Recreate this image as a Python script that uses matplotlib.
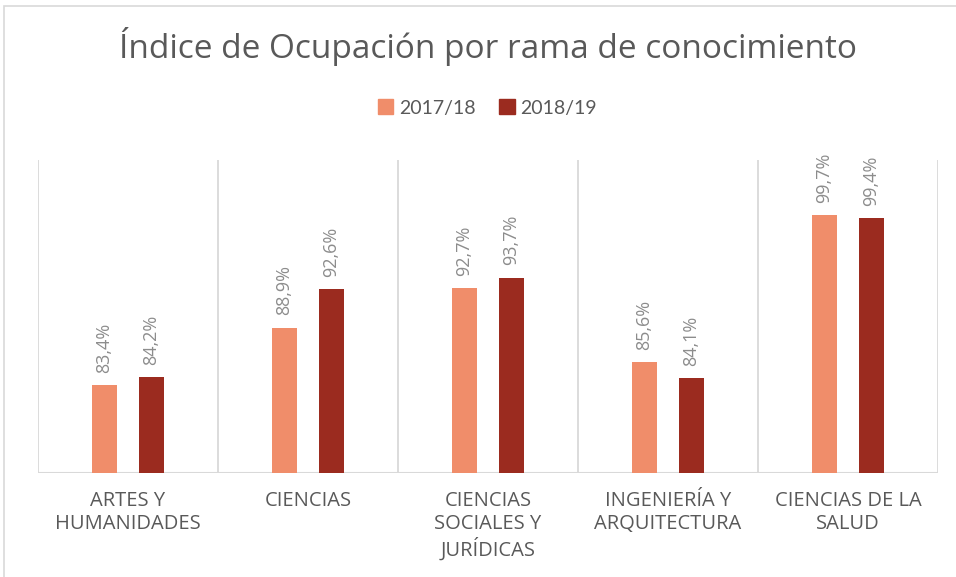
import matplotlib.pyplot as plt
import matplotlib.patches as mpatches
import numpy as np

# datos
categorias = ['ARTES Y\nHUMANIDADES', 'CIENCIAS', 'CIENCIAS\nSOCIALES Y\nJURÍDICAS',
              'INGENIERÍA Y\nARQUITECTURA', 'CIENCIAS DE LA\nSALUD']
series = ['2017/18', '2018/19']
valores_1718 = [83.4, 88.9, 92.7, 85.6, 99.7]
valores_1819 = [84.2, 92.6, 93.7, 84.1, 99.4]
colores = ['#F08D6A', '#9B2B1F']

plt.rcParams['font.family'] = ['Lato', 'DejaVu Sans']

fig = plt.figure(figsize=(9.56, 5.77), dpi=100)
ax = fig.add_axes([38 / 956, 1 - 473 / 577, 900 / 956, 313 / 577])

# marco del gráfico
fig.patches.append(mpatches.Rectangle((4 / 956, -0.1), 1.2, 1 - 6 / 577 + 0.1,
                                      transform=fig.transFigure, fill=False,
                                      edgecolor='#d9d9d9', linewidth=1.2))

x = np.arange(len(categorias))
ancho = 0.136
desp = 0.13

for i, (vals, serie) in enumerate(zip([valores_1718, valores_1819], series)):
    pos = x + (-desp if i == 0 else desp)
    bars = ax.bar(pos, np.array(vals) - 75, bottom=75, width=ancho,
                  color=colores[i], label=serie, zorder=3)
    for b, v in zip(bars, vals):
        ax.annotate(f'{v:.1f}%'.replace('.', ','), (b.get_x() + b.get_width() / 2, v),
                    xytext=(0, 9), textcoords='offset points', rotation=90,
                    ha='center', va='bottom', fontsize=13, color='#8c8c8c',
                    family=['Open Sans', 'DejaVu Sans'])

ax.set_xlim(-0.5, 4.5)
ax.set_ylim(75, 105)
for xv in np.arange(-0.5, 5, 1):
    ax.axvline(xv, color='#d9d9d9', linewidth=1.3, zorder=1)
ax.axhline(75, color='#d9d9d9', linewidth=1.5, zorder=2)

for s in ax.spines.values():
    s.set_visible(False)
ax.set_yticks([])
ax.set_xticks(x)
ax.set_xticklabels(categorias, fontsize=14.5, color='#595959', linespacing=1.2,
                   family=['Open Sans', 'DejaVu Sans'])
ax.tick_params(axis='x', length=0, pad=13)

fig.text(0.51, 1 - 47 / 577, 'Índice de Ocupación por rama de conocimiento',
         ha='center', va='center', fontsize=24, color='#595959',
         family=['Open Sans', 'DejaVu Sans'])

fig.legend(handles=[mpatches.Patch(color=c, label=s) for c, s in zip(colores, series)],
           loc='center', bbox_to_anchor=(0.51, 1 - 108 / 577), ncol=2, frameon=False,
           fontsize=14, labelcolor='#595959', handlelength=0.8, handleheight=0.8,
           handletextpad=0.3, columnspacing=1.2)

fig.savefig('out.png', dpi=100)
